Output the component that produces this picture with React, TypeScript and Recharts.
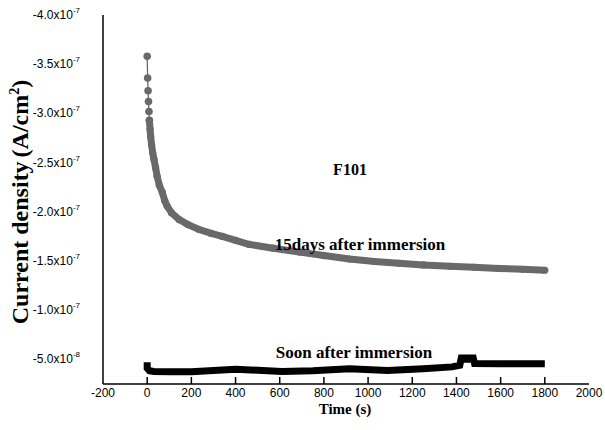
import { LineChart, Line, XAxis, YAxis } from "recharts";

// --- data (time in s, current density in A/cm2) ---
const time15Days = [
  0, 2, 4, 6, 8, 10, 13, 16, 20, 25, 31, 38, 45, 55, 68, 80, 90, 110, 145,
  185, 235, 290, 340, 400, 460, 570, 690, 800, 915, 1030, 1140, 1250, 1370,
  1480, 1590, 1700, 1800,
];
const current15Days = [
  -3.58e-7, -3.36e-7, -3.23e-7, -3.12e-7, -3.02e-7, -2.93e-7, -2.84e-7,
  -2.76e-7, -2.68e-7, -2.6e-7, -2.53e-7, -2.45e-7, -2.36e-7, -2.27e-7,
  -2.2e-7, -2.11e-7, -2.06e-7, -1.99e-7, -1.92e-7, -1.87e-7, -1.82e-7,
  -1.78e-7, -1.75e-7, -1.71e-7, -1.67e-7, -1.63e-7, -1.59e-7, -1.555e-7,
  -1.52e-7, -1.495e-7, -1.477e-7, -1.46e-7, -1.446e-7, -1.436e-7, -1.425e-7,
  -1.415e-7, -1.406e-7,
];

const timeSoon = [
  0, 0, 10, 30, 100, 200, 300, 400, 500, 610, 750, 915, 1087, 1250, 1380, 1415,
  1422, 1446, 1450, 1455, 1476, 1482, 1600, 1700, 1800,
];
const currentSoon = [
  -4.7e-8, -4.1e-8, -3.85e-8, -3.78e-8, -3.74e-8, -3.75e-8, -3.88e-8, -4.01e-8,
  -3.9e-8, -3.78e-8, -3.85e-8, -4.04e-8, -3.88e-8, -4.05e-8, -4.24e-8,
  -4.4e-8, -5.15e-8, -5.15e-8, -4.75e-8, -5.15e-8, -5.15e-8, -4.58e-8,
  -4.55e-8, -4.56e-8, -4.55e-8,
];

const xTicks = [-200, 0, 200, 400, 600, 800, 1000, 1200, 1400, 1600, 1800, 2000];
const xInnerTicks = [0, 200, 400, 600, 800, 1000, 1200, 1400, 1600, 1800];
const yMajorTicks = [-4e-7, -3.5e-7, -3e-7, -2.5e-7, -2e-7, -1.5e-7, -1e-7, -5e-8];
const yMajorLabels = [
  ["-4.0x10", "-7"],
  ["-3.5x10", "-7"],
  ["-3.0x10", "-7"],
  ["-2.5x10", "-7"],
  ["-2.0x10", "-7"],
  ["-1.5x10", "-7"],
  ["-1.0x10", "-7"],
  ["-5.0x10", "-8"],
];
const yMinorTicks = [-3.75e-7, -3.25e-7, -2.75e-7, -2.25e-7, -1.75e-7, -1.25e-7, -7.5e-8];

const X_DOMAIN = [-200, 2000];
const Y_DOMAIN = [-4e-7, -2.5e-8];

const GRAY = "#696969";
const SANS = "'Liberation Sans', Arial, sans-serif";
const SERIF = "'Liberation Serif', 'Times New Roman', serif";
const FRAME = { stroke: "#000", strokeWidth: 1.5 };
const TICK_LINE = { stroke: "#000", strokeWidth: 1.5 };

const fifteenDays = time15Days.map((t, i) => ({ t, v: current15Days[i] }));
const earlyDots = fifteenDays.slice(0, 6);
const mainCurve = fifteenDays.slice(5);
const soonAfter = timeSoon.map((t, i) => ({ t, v: currentSoon[i] }));

// label axes: tickSize/tickMargin 0 so x / y sit on the axis line
function YTick(props: any) {
  const { x, y, payload } = props;
  const idx = yMajorTicks.findIndex((v) => Math.abs(v - payload.value) < 1e-12);
  if (idx < 0) return <g />;
  return (
    <text x={x - 23} y={y + 4} textAnchor="end" fontFamily={SANS} fontSize={12} fill="#000">
      {yMajorLabels[idx][0]}
      <tspan dy={-6} fontSize={8}>
        {yMajorLabels[idx][1]}
      </tspan>
    </text>
  );
}

function XTick(props: any) {
  const { x, y, payload } = props;
  return (
    <text x={x} y={y + 13} textAnchor="middle" fontFamily={SANS} fontSize={12} fill="#000">
      {payload.value}
    </text>
  );
}

function Annotations() {
  return (
    <svg
      width={605}
      height={430}
      style={{ position: "absolute", left: 0, top: 0, pointerEvents: "none" }}
    >
      <g fontFamily={SERIF} fontWeight="bold" fill="#000">
        <text x={350} y={175} textAnchor="middle" fontSize={16}>
          F101
        </text>
        <text x={360} y={250} textAnchor="middle" fontSize={17}>
          15days after immersion
        </text>
        <text x={354} y={358} textAnchor="middle" fontSize={17}>
          Soon after immersion
        </text>
        <text x={345} y={414} textAnchor="middle" fontSize={15}>
          Time (s)
        </text>
        <text x={28} y={202} textAnchor="middle" fontSize={24} transform="rotate(-90 28 202)">
          Current density
          <tspan dx={4}>(A/cm</tspan>
          <tspan dy={-9} fontSize={14}>
            2
          </tspan>
          <tspan dy={9}>)</tspan>
        </text>
      </g>
    </svg>
  );
}

const noLabel = () => "";

export default function App() {
  return (
    <div style={{ position: "absolute", left: 0, top: 0, width: 605, height: 430, background: "#fff" }}>
      <LineChart width={605} height={430} margin={{ top: 15, right: 16, bottom: 0, left: 0 }}>
        {/* label axes (outside the frame) */}
        <XAxis
          dataKey="t"
          type="number"
          domain={X_DOMAIN}
          ticks={xTicks}
          interval={0}
          height={46}
          tickSize={0}
          tickMargin={0}
          tickLine={false}
          tick={<XTick />}
          axisLine={FRAME}
          allowDataOverflow
        />
        <YAxis
          type="number"
          domain={Y_DOMAIN}
          reversed
          ticks={yMajorTicks}
          interval={0}
          width={103}
          tickSize={0}
          tickMargin={0}
          tickLine={false}
          tick={<YTick />}
          axisLine={FRAME}
          allowDataOverflow
        />
        {/* mirrored copies that only draw the inward tick marks */}
        <XAxis
          xAxisId="xMarks"
          dataKey="t"
          type="number"
          domain={X_DOMAIN}
          ticks={xInnerTicks}
          interval={0}
          mirror
          height={30}
          tickSize={7}
          tickLine={TICK_LINE}
          tickFormatter={noLabel}
          axisLine={false}
          allowDataOverflow
        />
        <YAxis
          yAxisId="yMajorMarks"
          type="number"
          domain={Y_DOMAIN}
          reversed
          ticks={yMajorTicks}
          interval={0}
          mirror
          width={0}
          tickSize={7}
          tickLine={TICK_LINE}
          tickFormatter={noLabel}
          axisLine={false}
          allowDataOverflow
        />
        <YAxis
          yAxisId="yMinorMarks"
          type="number"
          domain={Y_DOMAIN}
          reversed
          ticks={yMinorTicks}
          interval={0}
          mirror
          width={0}
          tickSize={5}
          tickLine={TICK_LINE}
          tickFormatter={noLabel}
          axisLine={false}
          allowDataOverflow
        />
        {/* top and right frame */}
        <XAxis
          xAxisId="top"
          orientation="top"
          dataKey="t"
          type="number"
          domain={X_DOMAIN}
          height={0}
          tick={false}
          tickLine={false}
          axisLine={FRAME}
        />
        <YAxis
          yAxisId="right"
          orientation="right"
          type="number"
          domain={Y_DOMAIN}
          width={0}
          tick={false}
          tickLine={false}
          axisLine={FRAME}
        />
        <Line
          data={mainCurve}
          dataKey="v"
          type="linear"
          stroke={GRAY}
          strokeWidth={7}
          dot={{ r: 3.6, fill: GRAY, stroke: "none" }}
          isAnimationActive={false}
        />
        <Line
          data={earlyDots}
          dataKey="v"
          type="linear"
          stroke={GRAY}
          strokeWidth={1.3}
          dot={{ r: 3.8, fill: GRAY, stroke: "none" }}
          isAnimationActive={false}
        />
        <Line
          data={soonAfter}
          dataKey="v"
          type="linear"
          stroke="#000"
          strokeWidth={7}
          dot={false}
          isAnimationActive={false}
        />
        {/* invisible copies that tie the tick-mark axes to data */}
        <Line
          data={soonAfter}
          dataKey="v"
          xAxisId="xMarks"
          yAxisId="yMajorMarks"
          stroke="none"
          dot={false}
          isAnimationActive={false}
        />
        <Line
          data={soonAfter}
          dataKey="v"
          xAxisId="top"
          yAxisId="yMinorMarks"
          stroke="none"
          dot={false}
          isAnimationActive={false}
        />
        <Line
          data={soonAfter}
          dataKey="v"
          xAxisId="xMarks"
          yAxisId="right"
          stroke="none"
          dot={false}
          isAnimationActive={false}
        />
      </LineChart>
      <Annotations />
    </div>
  );
}
